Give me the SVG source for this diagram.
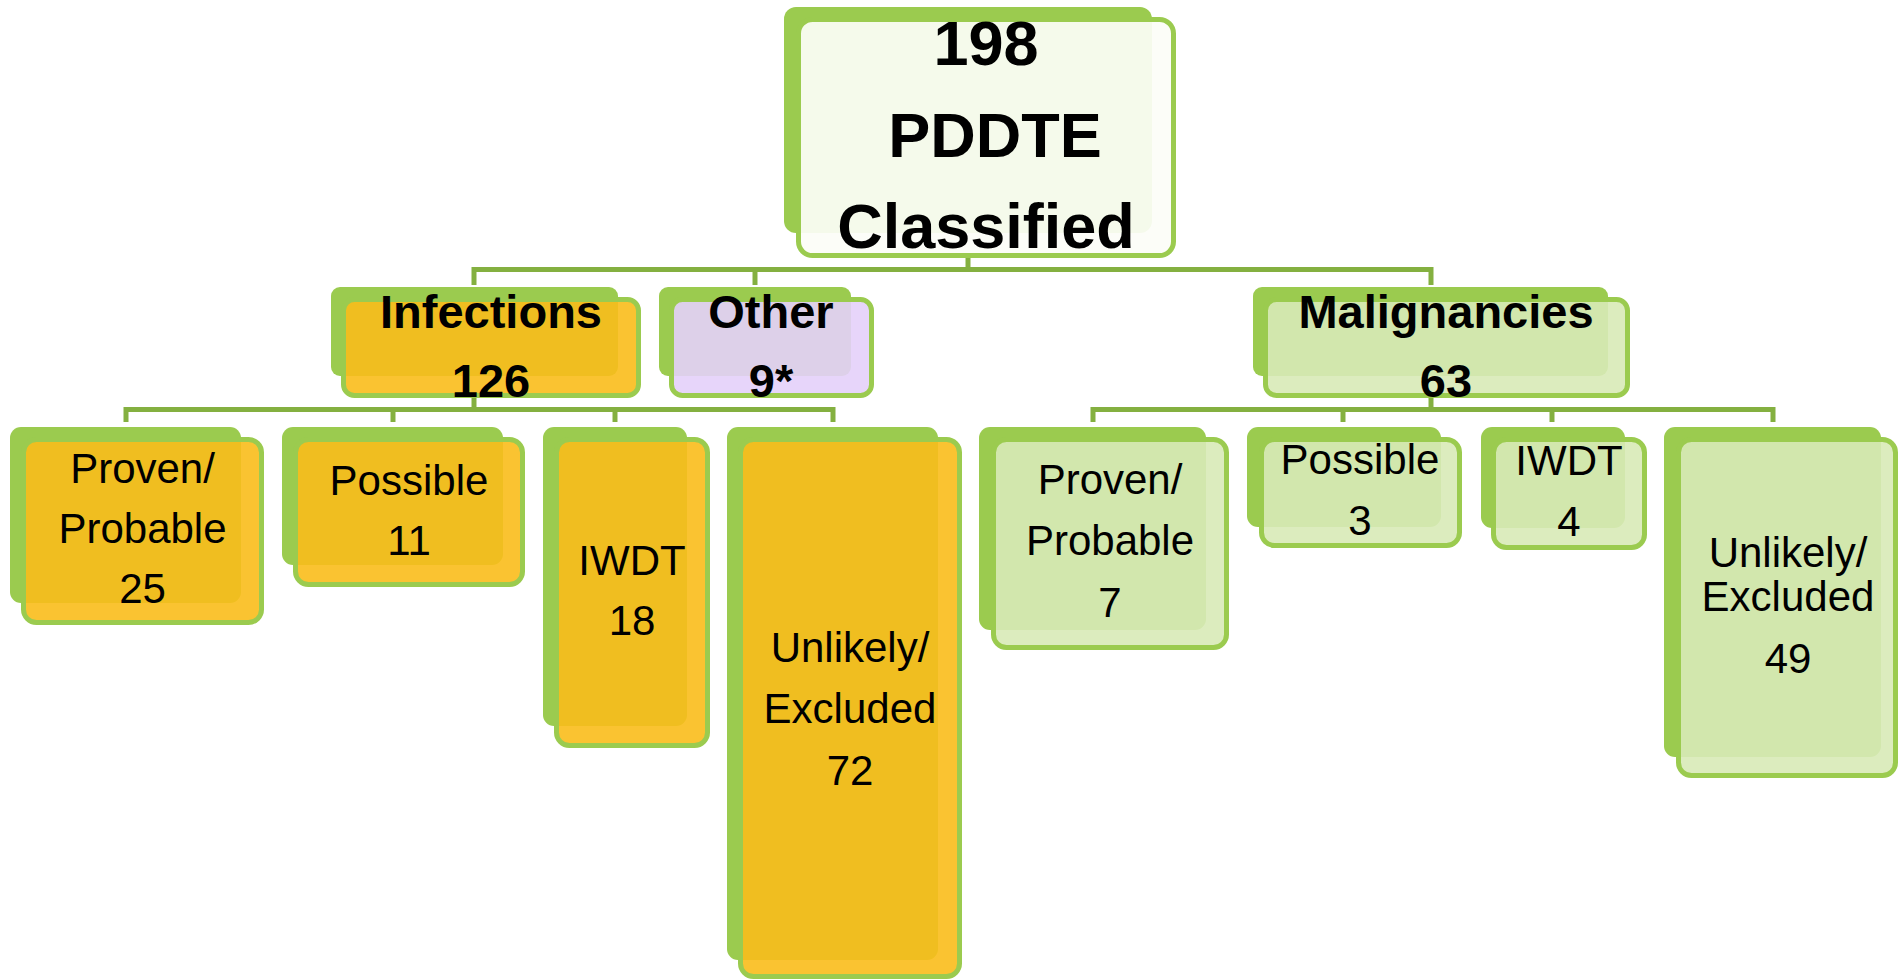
<svg xmlns="http://www.w3.org/2000/svg" width="1899" height="980" viewBox="0 0 1899 980">
<style>
.bk{fill:#9bcb4f}
.fr{stroke:#9bcb4f;stroke-width:5}
.root{fill:#fcfdf8;fill-opacity:0.93}
.inf{fill:#f9bd1b;fill-opacity:0.9}
.oth{fill:#e4d0fa;fill-opacity:0.9}
.mal{fill:#d8eab7;fill-opacity:0.9}
.con{fill:none;stroke:#84b040;stroke-width:5}
text{font-family:"Liberation Sans",Arial,sans-serif;fill:#000;text-anchor:middle}
.t0{font-size:63px;font-weight:bold}
.t1{font-size:47px;font-weight:bold}
.t2{font-size:42px}
</style>
<rect width="1899" height="980" fill="#ffffff"/>
<g id="connectors" class="con">
<path d="M968,258 V269.5"/>
<path d="M474,285 V269.5 H1431 V285"/>
<path d="M755,269.5 V285"/>
<path d="M474,398 V409.5"/>
<path d="M126,422 V409.5 H833 V422"/>
<path d="M393,409.5 V422"/>
<path d="M615,409.5 V422"/>
<path d="M1431,398 V409.5"/>
<path d="M1093,422 V409.5 H1773 V422"/>
<path d="M1343,409.5 V422"/>
<path d="M1552,409.5 V422"/>
</g>
<g id="root">
<rect class="bk" x="784" y="7" width="368" height="226" rx="12"/>
<rect class="fr root" x="798.5" y="19.5" width="375" height="236" rx="14"/>
<text class="t0" x="986" y="65">198</text>
<text class="t0" x="995" y="157">PDDTE</text>
<text class="t0" x="986" y="248">Classified</text>
</g>
<g id="infections">
<rect class="bk" x="331" y="287" width="287" height="89" rx="9"/>
<rect class="fr inf" x="343.5" y="299.5" width="295" height="96" rx="11"/>
<text class="t1" x="491" y="328">Infections</text>
<text class="t1" x="491" y="397">126</text>
</g>
<g id="other">
<rect class="bk" x="659" y="287" width="192" height="89" rx="9"/>
<rect class="fr oth" x="671.5" y="299.5" width="200" height="96" rx="11"/>
<text class="t1" x="771" y="328">Other</text>
<text class="t1" x="771" y="397">9*</text>
</g>
<g id="malignancies">
<rect class="bk" x="1253" y="287" width="355" height="89" rx="9"/>
<rect class="fr mal" x="1265.5" y="299.5" width="362" height="96" rx="11"/>
<text class="t1" x="1446" y="328">Malignancies</text>
<text class="t1" x="1446" y="397">63</text>
</g>
<g id="inf-proven">
<rect class="bk" x="10" y="427" width="231" height="176" rx="11"/>
<rect class="fr inf" x="23.5" y="439.5" width="238" height="183" rx="13"/>
<text class="t2" x="142.5" y="483">Proven/</text>
<text class="t2" x="142.5" y="543">Probable</text>
<text class="t2" x="142.5" y="603">25</text>
</g>
<g id="inf-possible">
<rect class="bk" x="282" y="427" width="221" height="138" rx="11"/>
<rect class="fr inf" x="295.5" y="439.5" width="227" height="145" rx="13"/>
<text class="t2" x="409" y="495">Possible</text>
<text class="t2" x="409" y="555">11</text>
</g>
<g id="inf-iwdt">
<rect class="bk" x="543" y="427" width="144" height="299" rx="11"/>
<rect class="fr inf" x="556.5" y="439.5" width="151" height="306" rx="13"/>
<text class="t2" x="632" y="575">IWDT</text>
<text class="t2" x="632" y="635">18</text>
</g>
<g id="inf-unlikely">
<rect class="bk" x="727" y="427" width="211" height="533" rx="11"/>
<rect class="fr inf" x="740.5" y="439.5" width="219" height="537" rx="13"/>
<text class="t2" x="850" y="662">Unlikely/</text>
<text class="t2" x="850" y="723">Excluded</text>
<text class="t2" x="850" y="785">72</text>
</g>
<g id="mal-proven">
<rect class="bk" x="979" y="427" width="227" height="203" rx="11"/>
<rect class="fr mal" x="993.5" y="439.5" width="233" height="208" rx="13"/>
<text class="t2" x="1110" y="494">Proven/</text>
<text class="t2" x="1110" y="555">Probable</text>
<text class="t2" x="1110" y="617">7</text>
</g>
<g id="mal-possible">
<rect class="bk" x="1247" y="427" width="194" height="100" rx="11"/>
<rect class="fr mal" x="1261.5" y="439.5" width="198" height="106" rx="13"/>
<text class="t2" x="1360" y="474">Possible</text>
<text class="t2" x="1360" y="535">3</text>
</g>
<g id="mal-iwdt">
<rect class="bk" x="1481" y="427" width="144" height="101" rx="11"/>
<rect class="fr mal" x="1493.5" y="439.5" width="151" height="108" rx="13"/>
<text class="t2" x="1569" y="475">IWDT</text>
<text class="t2" x="1569" y="536">4</text>
</g>
<g id="mal-unlikely">
<rect class="bk" x="1664" y="427" width="217" height="330" rx="11"/>
<rect class="fr mal" x="1678.5" y="439.5" width="217" height="336" rx="13"/>
<text class="t2" x="1788" y="567">Unlikely/</text>
<text class="t2" x="1788" y="611">Excluded</text>
<text class="t2" x="1788" y="673">49</text>
</g>
</svg>
